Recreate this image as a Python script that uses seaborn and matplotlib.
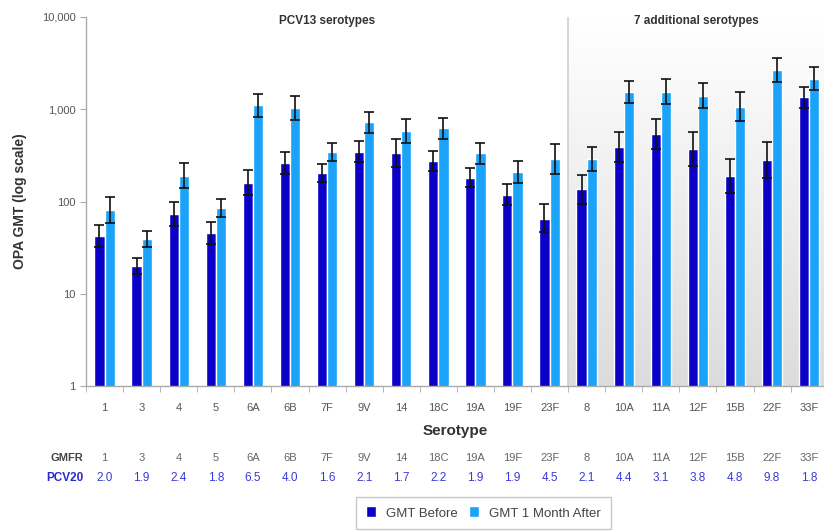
import numpy as np
import pandas as pd
import seaborn as sns
import matplotlib.pyplot as plt
from matplotlib.ticker import FuncFormatter, NullLocator, FixedLocator

serotypes = ["1", "3", "4", "5", "6A", "6B", "7F", "9V", "14", "18C", "19A", "19F", "23F",
             "8", "10A", "11A", "12F", "15B", "22F", "33F"]
gmt_before = [42, 20, 73, 46, 160, 262, 205, 348, 334, 275, 181, 118, 65,
              135, 388, 540, 370, 190, 283, 1345]
before_low = [32, 16.5, 54, 35, 118, 200, 163, 266, 235, 212, 143, 91, 47,
              94, 267, 374, 243, 125, 179, 1040]
before_high = [55, 24.5, 100, 60, 220, 345, 258, 455, 475, 357, 229, 154, 93,
               194, 563, 780, 563, 287, 447, 1740]
gmt_after = [81, 39, 190, 85, 1100, 1025, 345, 720, 585, 620, 334, 211, 289,
             289, 1550, 1550, 1400, 1070, 2680, 2150]
after_low = [59, 32, 139, 68, 830, 761, 277, 554, 433, 475, 256, 160, 199,
             215, 1178, 1128, 1021, 739, 1979, 1611]
after_high = [112, 48, 260, 106, 1450, 1380, 430, 935, 790, 810, 435, 278, 420,
              388, 2040, 2130, 1920, 1550, 3630, 2870]
gmfr = ["2.0", "1.9", "2.4", "1.8", "6.5", "4.0", "1.6", "2.1", "1.7", "2.2", "1.9", "1.9", "4.5",
        "2.1", "4.4", "3.1", "3.8", "4.8", "9.8", "1.8"]

labels = ["GMT Before", "GMT 1 Month After"]
colors = ["#0a00c8", "#1aa3f8"]

df = pd.DataFrame({
    "serotype": serotypes * 2,
    "when": [labels[0]] * len(serotypes) + [labels[1]] * len(serotypes),
    "gmt": gmt_before + gmt_after,
})

sns.set_style("white")
plt.rcParams["font.family"] = ["Liberation Sans", "DejaVu Sans"]

fig = plt.figure(figsize=(8.24, 5.32), dpi=100)
pos = [86 / 824, 146 / 532, 738 / 824, 369 / 532]

# background gradient for the 7 additional serotypes
bg = fig.add_axes(pos, zorder=0)
bg.set_xlim(-0.5, 19.4)
bg.set_ylim(0, 1)
grad = np.linspace(0, 1, 256).reshape(-1, 1)
bg.imshow(grad, extent=[12.5, 19.4, 0, 1], aspect="auto", origin="upper",
          cmap=plt.matplotlib.colors.LinearSegmentedColormap.from_list("g", ["#ffffff", "#dcdcdc"]))
bg.axvline(12.5, color="#cfcfcf", lw=1.2)
bg.axis("off")

ax = fig.add_axes(pos, zorder=1)
ax.patch.set_alpha(0)
sns.barplot(data=df, x="serotype", y="gmt", hue="when", palette=colors, order=serotypes,
            hue_order=labels, width=0.55, gap=0, errorbar=None, ax=ax, saturation=1)
ax.set_yscale("log")

lows = [before_low, after_low]
highs = [before_high, after_high]
vals = [gmt_before, gmt_after]
bar_groups = list(ax.containers)[:2]
for k, cont in enumerate(bar_groups):
    xs = [b.get_x() + b.get_width() / 2 for b in cont]
    v = np.array(vals[k], float)
    yerr = [v - np.array(lows[k]), np.array(highs[k]) - v]
    ax.errorbar(xs, v, yerr=yerr, fmt="none", ecolor="#111111", elinewidth=1.2,
                capsize=3.5, capthick=1.2, zorder=5)

ax.set_xlim(-0.5, 19.4)
ax.set_ylim(1, 10000)
ax.yaxis.set_minor_locator(NullLocator())
ax.yaxis.set_major_formatter(FuncFormatter(lambda v, p: f"{int(v):,}"))
ax.xaxis.set_minor_locator(FixedLocator(np.arange(-0.5, 19.5, 1.0)))
ax.tick_params(axis="x", which="major", length=0, labelsize=8, colors="#555555", pad=12)
ax.tick_params(axis="x", which="minor", length=4, color="#aaaaaa", bottom=True)
ax.tick_params(axis="y", which="major", length=4, color="#aaaaaa", labelsize=8,
               labelcolor="#555555", left=True)
for s in ["top", "right"]:
    ax.spines[s].set_visible(False)
for s in ["left", "bottom"]:
    ax.spines[s].set_color("#aaaaaa")
    ax.spines[s].set_linewidth(1)

ax.set_xlabel("Serotype", fontsize=11, fontweight="bold", color="#333333", labelpad=8)
ax.set_ylabel("")
fig.text(20 / 824, 1 - 201 / 532, "OPA GMT (log scale)", rotation=90, ha="center", va="center",
         fontsize=10, fontweight="bold", color="#333333")

ax.text(6.0, 0.99, "PCV13 serotypes", transform=ax.get_xaxis_transform(), ha="center",
        va="center", fontsize=8.5, fontweight="bold", color="#333333")
ax.text(15.97, 0.99, "7 additional serotypes", transform=ax.get_xaxis_transform(), ha="center",
        va="center", fontsize=8.5, fontweight="bold", color="#333333")

tr = ax.get_xaxis_transform()
ax.text(-0.57, -0.195, "GMFR", transform=tr, ha="right", va="center", fontsize=8,
        fontweight="bold", color="#444444", clip_on=False)
ax.text(-0.57, -0.25, "PCV20", transform=tr, ha="right", va="center", fontsize=8.5,
        fontweight="bold", color="#2a2ad0", clip_on=False)
for i, (s, g) in enumerate(zip(serotypes, gmfr)):
    ax.text(i, -0.195, s, transform=tr, ha="center", va="center", fontsize=8,
            color="#666666", clip_on=False)
    ax.text(i, -0.25, g, transform=tr, ha="center", va="center", fontsize=8.5,
            color="#3a3ad8", clip_on=False)

handles, labs = ax.get_legend_handles_labels()
ax.get_legend().remove()
leg = fig.legend(handles, labs, loc="center", bbox_to_anchor=(483.5 / 824, 19 / 532), ncol=2,
                 fontsize=9.5, frameon=True, fancybox=False, edgecolor="#bbbbbb",
                 handlelength=0.76, handleheight=0.9, handletextpad=0.75, columnspacing=0.85,
                 borderpad=0.75, borderaxespad=0)
for t in leg.get_texts():
    t.set_color("#444444")

fig.savefig("out.png", dpi=100)
